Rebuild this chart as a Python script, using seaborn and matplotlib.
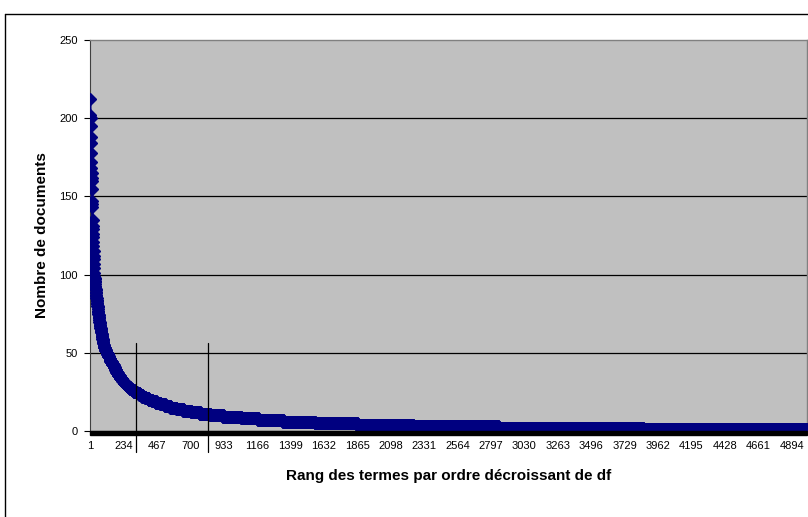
import matplotlib
matplotlib.use("Agg")
import matplotlib.pyplot as plt
from matplotlib.patches import Rectangle
from matplotlib.lines import Line2D
import numpy as np
import pandas as pd
import seaborn as sns

sns.set_style("white")
plt.rcParams['font.family'] = ['Liberation Sans', 'DejaVu Sans']
plt.rcParams['text.color'] = 'black'
plt.rcParams['axes.labelcolor'] = 'black'
plt.rcParams['xtick.color'] = 'black'
plt.rcParams['ytick.color'] = 'black'

# niveaux de df (ordre decroissant) et nombre de termes ayant ce df
df_levels = [212, 202, 201, 200, 195, 188, 184, 178, 172, 168, 165, 162,
             160, 155, 147, 145, 143, 135, 131, 129, 126, 124, 121, 118,
             115, 112, 110, 107, 104, 101, 99,
             98, 97, 96, 95, 94, 93, 92, 91, 90, 89, 88, 87, 86, 85, 84, 83, 82,
             81, 80, 79, 78, 77, 76, 75, 74, 73, 72, 71, 70, 69, 68,
             67, 66, 65, 64, 63, 62, 61, 60, 59, 58, 57, 56, 55,
             54, 53, 52, 51, 50, 49, 48, 47, 46, 45, 44, 43, 42,
             41, 40, 39, 38, 37, 36, 35, 34, 33, 32, 31, 30, 29, 28, 27, 26,
             25, 24, 23, 22, 21, 20, 19, 18,
             17, 16, 15, 14, 13, 12, 11,
             10, 9, 8, 7, 6, 5, 4, 3, 2, 1]
n_terms = [1] * 31 + [
    1, 1, 1, 1, 1, 1, 1, 1, 1, 1, 1, 1, 1, 2, 1, 1, 2,
    1, 2, 1, 1, 1, 2, 1, 2, 1, 2, 1, 2, 2, 1,
    2, 2, 2, 2, 2, 2, 2, 2, 2, 2, 2, 2, 2,
    5, 4, 5, 5, 5, 5, 5, 6, 5, 6, 6, 6, 7,
    6, 5, 6, 5, 6, 7, 8, 8, 9, 9, 10, 10, 11, 12, 13, 15,
    19, 19, 20, 21, 23, 25, 27, 30,
    33, 37, 42, 48, 55, 62, 70,
    91, 126, 118, 174, 223, 293, 391, 593, 1011, 1143]

tick_ranks = [1, 234, 467, 700, 933, 1166, 1399, 1632, 1865, 2098, 2331,
              2564, 2797, 3030, 3263, 3496, 3729, 3962, 4195, 4428, 4661, 4894]
marker_ranks = [320, 820]   # traits verticaux
marker_top = 56

freq = np.repeat(df_levels, n_terms)
data = pd.DataFrame({"rang": np.arange(1, len(freq) + 1), "df": freq})
N = len(data)

fig = plt.figure(figsize=(8.08, 5.17), dpi=100)
W, H = 808, 517
ax = fig.add_axes([90 / W, (H - 431) / H, 717 / W, 391 / H])
ax.set_facecolor('#C0C0C0')

# cadre de la zone de graphique
fig.add_artist(Line2D([5 / W, 1.0], [1 - 14 / H, 1 - 14 / H], color='black', lw=1))
fig.add_artist(Line2D([5 / W, 5 / W], [0, 1 - 14 / H], color='black', lw=1))

for y in [50, 100, 150, 200]:
    ax.axhline(y, color='black', lw=0.9, zorder=1)

sns.lineplot(data=data, x="rang", y="df", ax=ax, color='#000080',
             marker='D', markersize=6, markeredgecolor='#000080',
             markeredgewidth=1, linewidth=2, errorbar=None, zorder=3)

for r in marker_ranks:
    ax.plot([r, r], [marker_top, -13.5], color='black', lw=0.9,
            clip_on=False, zorder=4)

ax.set_xlim(0.5, N + 0.5)
ax.set_ylim(0, 250)
ax.set_yticks([0, 50, 100, 150, 200, 250])
ax.set_xticks(tick_ranks)
ax.set_xticklabels([str(t) for t in tick_ranks])
ax.tick_params(axis='x', length=0, pad=7, labelsize=8)
ax.tick_params(axis='y', length=4, width=0.8, color='black', pad=5,
               labelsize=8, left=True)

for s in ['top', 'right']:
    ax.spines[s].set_color('#808080')
    ax.spines[s].set_linewidth(1)
ax.spines['left'].set_color('#404040')
ax.spines['bottom'].set_color('black')

# bande noire des graduations de l'axe des categories
ax.add_patch(Rectangle((0, 0), 1, -4 / 391, transform=ax.transAxes,
                       color='black', clip_on=False, zorder=5))

ax.set_xlabel('Rang des termes par ordre décroissant de df',
              fontsize=11, fontweight='bold', labelpad=13)
ax.set_ylabel('Nombre de documents', fontsize=11, fontweight='bold',
              labelpad=7)

fig.savefig('out.png', dpi=100)
